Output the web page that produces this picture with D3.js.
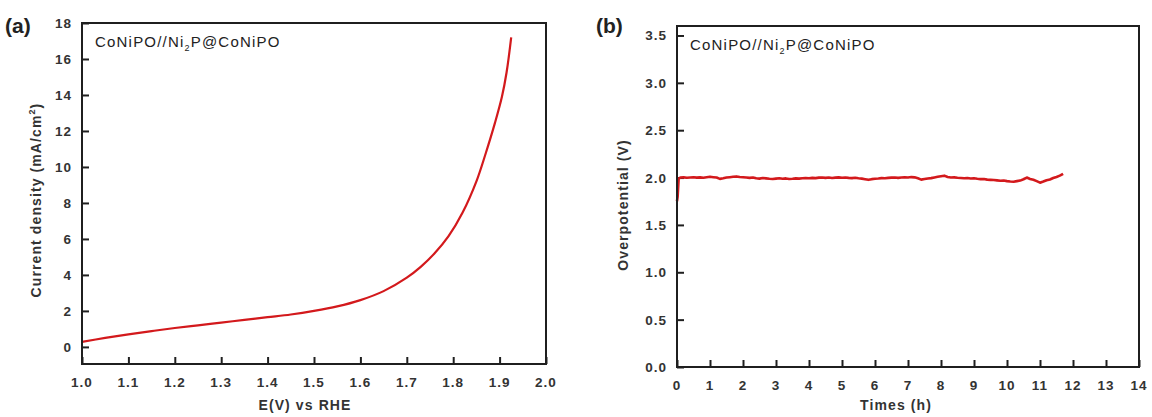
<!DOCTYPE html>
<html>
<head>
<meta charset="utf-8">
<script src="https://cdn.jsdelivr.net/npm/d3@7"></script>
<style>
  html, body { margin: 0; padding: 0; background: #fff; }
  svg { display: block; }
  text { font-family: "Liberation Sans", Arial, sans-serif; }
</style>
</head>
<body>
<svg id="chart" width="1152" height="417"></svg>
<script>
// Panel (a): polarization curve
const potential = [1.00, 1.05, 1.10, 1.15, 1.20, 1.25, 1.30, 1.35, 1.40, 1.45, 1.50, 1.55, 1.60, 1.65, 1.70, 1.73, 1.76, 1.79, 1.82, 1.85, 1.87, 1.89, 1.905, 1.915, 1.925];
const currentDensity = [0.28, 0.50, 0.70, 0.88, 1.05, 1.20, 1.35, 1.50, 1.65, 1.80, 2.00, 2.25, 2.60, 3.10, 3.85, 4.45, 5.20, 6.15, 7.45, 9.20, 10.75, 12.45, 13.90, 15.25, 17.20];
const xTicksA = [1.0, 1.1, 1.2, 1.3, 1.4, 1.5, 1.6, 1.7, 1.8, 1.9, 2.0];
const yTicksA = [0, 2, 4, 6, 8, 10, 12, 14, 16, 18];

// Panel (b): stability test
const hours = [0, 0.02, 0.05, 0.1, 0.2, 0.3, 0.4, 0.5, 0.6, 0.7, 0.8, 0.9, 1.0, 1.1, 1.2, 1.3, 1.4, 1.5, 1.6, 1.7, 1.8, 1.9, 2.0, 2.1, 2.2, 2.3, 2.4, 2.5, 2.6, 2.7, 2.8, 2.9, 3.0, 3.1, 3.2, 3.3, 3.4, 3.5, 3.6, 3.7, 3.8, 3.9, 4.0, 4.1, 4.2, 4.3, 4.4, 4.5, 4.6, 4.7, 4.8, 4.9, 5.0, 5.1, 5.2, 5.3, 5.4, 5.5, 5.6, 5.7, 5.8, 5.9, 6.0, 6.1, 6.2, 6.3, 6.4, 6.5, 6.6, 6.7, 6.8, 6.9, 7.0, 7.1, 7.2, 7.3, 7.4, 7.5, 7.6, 7.7, 7.8, 7.9, 8.0, 8.1, 8.2, 8.3, 8.4, 8.5, 8.6, 8.7, 8.8, 8.9, 9.0, 9.1, 9.2, 9.3, 9.4, 9.5, 9.6, 9.7, 9.8, 9.9, 10.0, 10.1, 10.2, 10.3, 10.4, 10.5, 10.6, 10.7, 10.8, 10.9, 11.0, 11.1, 11.2, 11.3, 11.4, 11.5, 11.6, 11.7];
const overpotential = [1.75, 1.80, 1.99, 2.000, 2.002, 1.998, 2.001, 2.004, 1.999, 2.002, 1.998, 2.003, 2.008, 2.004, 2.000, 1.986, 1.992, 2.000, 2.004, 2.008, 2.012, 2.006, 2.003, 2.000, 1.997, 2.001, 1.992, 1.989, 1.995, 1.991, 1.987, 1.984, 1.989, 1.993, 1.988, 1.991, 1.985, 1.987, 1.991, 1.989, 1.992, 1.995, 1.993, 1.997, 1.994, 1.999, 2.001, 1.997, 2.000, 1.995, 1.999, 2.002, 1.998, 2.001, 1.997, 1.994, 1.998, 1.992, 1.989, 1.983, 1.976, 1.983, 1.987, 1.990, 1.994, 1.993, 1.997, 1.999, 2.001, 1.997, 2.000, 2.003, 2.001, 2.005, 2.002, 1.992, 1.978, 1.984, 1.990, 1.994, 2.001, 2.008, 2.014, 2.020, 2.006, 2.000, 2.002, 1.998, 1.996, 1.993, 1.995, 1.990, 1.992, 1.987, 1.983, 1.985, 1.978, 1.976, 1.974, 1.970, 1.966, 1.968, 1.962, 1.958, 1.956, 1.962, 1.968, 1.982, 2.000, 1.985, 1.976, 1.962, 1.946, 1.958, 1.972, 1.980, 1.995, 2.006, 2.020, 2.040];
const xTicksB = d3.range(0, 15, 1);
const yTicksB = [0.0, 0.5, 1.0, 1.5, 2.0, 2.5, 3.0, 3.5];

const sampleName = "CoNiPO//Ni";
const lineColor = "#d3191c";
const axisColor = "#1f1f1f";
const labelColor = "#333";

const svg = d3.select("#chart");

function drawPanel(cfg) {
  const { left, top, right, bottom } = cfg.box;
  const x = d3.scaleLinear().domain(cfg.xDomain).range([left, right]);
  const y = d3.scaleLinear().domain(cfg.yDomain).range([bottom, top]);
  const g = svg.append("g");

  // inward ticks on bottom and left
  const xAxis = d3.axisTop(x).tickValues(cfg.xTicks).tickSize(7).tickFormat("");
  g.append("g").attr("transform", `translate(0,${bottom})`).call(xAxis)
    .call(s => s.select(".domain").remove())
    .call(s => s.selectAll("line").attr("stroke", axisColor).attr("stroke-width", 2));
  const yAxis = d3.axisRight(y).tickValues(cfg.yTicks).tickSize(7).tickFormat("");
  g.append("g").attr("transform", `translate(${left},0)`).call(yAxis)
    .call(s => s.select(".domain").remove())
    .call(s => s.selectAll("line").attr("stroke", axisColor).attr("stroke-width", 2));

  // tick labels
  g.append("g").selectAll("text").data(cfg.xTicks).join("text")
    .attr("x", d => x(d)).attr("y", bottom + 23)
    .attr("text-anchor", "middle")
    .attr("font-size", 13.5).attr("font-weight", "bold")
    .attr("letter-spacing", 1).attr("fill", labelColor)
    .text(cfg.xFmt);
  g.append("g").selectAll("text").data(cfg.yTicks).join("text")
    .attr("x", left - 10).attr("y", d => y(d) + 5)
    .attr("text-anchor", "end")
    .attr("font-size", 13.5).attr("font-weight", "bold")
    .attr("letter-spacing", 1).attr("fill", labelColor)
    .text(cfg.yFmt);

  // data line
  const line = d3.line().x(d => x(d[0])).y(d => y(d[1])).curve(cfg.curve);
  g.append("path")
    .datum(cfg.xs.map((v, i) => [v, cfg.ys[i]]))
    .attr("d", line)
    .attr("fill", "none")
    .attr("stroke", lineColor)
    .attr("stroke-width", cfg.lineWidth)
    .attr("stroke-linejoin", "round");

  // frame
  g.append("rect")
    .attr("x", left).attr("y", top)
    .attr("width", right - left).attr("height", bottom - top)
    .attr("fill", "none").attr("stroke", axisColor).attr("stroke-width", 2);

  // axis titles
  g.append("text")
    .attr("x", cfg.xTitlePos[0]).attr("y", cfg.xTitlePos[1])
    .attr("text-anchor", "middle")
    .attr("font-size", 14).attr("font-weight", "bold")
    .attr("letter-spacing", 1.1).attr("fill", labelColor)
    .text(cfg.xTitle);
  const yt = g.append("text")
    .attr("transform", `translate(${cfg.yTitlePos[0]},${cfg.yTitlePos[1]}) rotate(-90)`)
    .attr("text-anchor", "middle")
    .attr("font-size", 14).attr("font-weight", "bold")
    .attr("letter-spacing", 1.1).attr("fill", labelColor);
  cfg.yTitle(yt);

  // sample annotation
  const ann = g.append("text")
    .attr("x", left + 13).attr("y", top + 24)
    .attr("font-size", 15).attr("letter-spacing", 1.2).attr("fill", "#222");
  ann.append("tspan").text(sampleName);
  ann.append("tspan").attr("font-size", 9).attr("dy", 4).text("2");
  ann.append("tspan").attr("dy", -4).text("P@CoNiPO");

  // panel letter
  g.append("text")
    .attr("x", cfg.letterPos[0]).attr("y", cfg.letterPos[1])
    .attr("font-size", 21).attr("font-weight", "bold").attr("fill", "#222")
    .text(cfg.letter);
}

drawPanel({
  box: { left: 82, top: 23, right: 546, bottom: 364 },
  xDomain: [1.0, 2.0], yDomain: [-0.95, 18],
  xTicks: xTicksA, yTicks: yTicksA,
  xFmt: d3.format(".1f"), yFmt: d => String(d),
  xs: potential, ys: currentDensity,
  curve: d3.curveCatmullRom.alpha(0.5),
  lineWidth: 2.2,
  xTitle: "E(V) vs RHE", xTitlePos: [305, 410],
  yTitle: t => {
    t.append("tspan").text("Current density (mA/cm");
    t.append("tspan").attr("font-size", 9).attr("dy", -6).text("2");
    t.append("tspan").attr("dy", 6).text(")");
  },
  yTitlePos: [41, 200],
  letter: "(a)", letterPos: [5, 33]
});

drawPanel({
  box: { left: 677, top: 26, right: 1139, bottom: 367 },
  xDomain: [0, 14], yDomain: [0, 3.6],
  xTicks: xTicksB, yTicks: yTicksB,
  xFmt: d => String(d), yFmt: d3.format(".1f"),
  xs: hours, ys: overpotential,
  curve: d3.curveLinear,
  lineWidth: 2.6,
  xTitle: "Times (h)", xTitlePos: [896, 410],
  yTitle: t => t.text("Overpotential (V)"),
  yTitlePos: [628, 205],
  letter: "(b)", letterPos: [596, 33]
});
</script>
</body>
</html>
